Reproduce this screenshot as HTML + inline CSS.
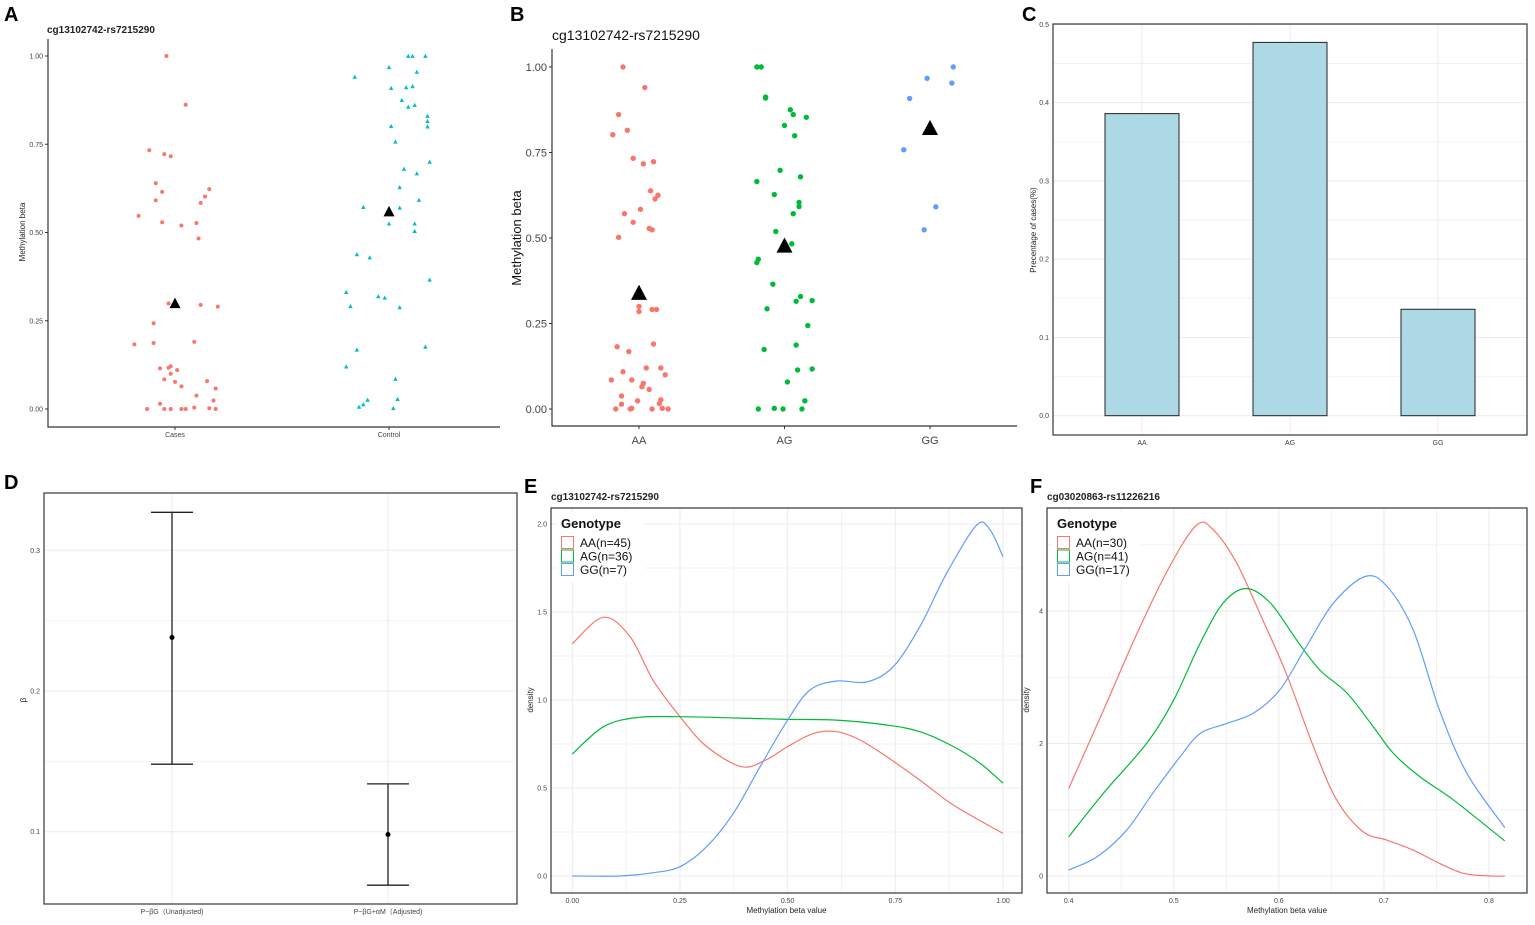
<!DOCTYPE html>
<html><head><meta charset="utf-8"><style>
html,body{margin:0;padding:0;background:#fff;}
svg{display:block;font-family:"Liberation Sans",Arial,sans-serif;}
</style></head><body>
<svg id="fig" width="1535" height="925" viewBox="0 0 1535 925" xmlns="http://www.w3.org/2000/svg"></svg>
<script>
// ---------- DATA ----------
// Panel A: values and jitter (category units)
const aCasesVal=[1.00,.862,.733,.722,.716,.640,.615,.623,.602,.591,.584,.547,.529,.520,.527,.483,.299,.295,.290,.243,.183,.187,.190,.115,.117,.121,.110,.100,.084,.077,.079,.064,.058,.038,.024,.015,0,0,0,0,0,.004,.002,0];
const aCasesJit=[-.04,.05,-.12,-.05,-.02,-.09,-.06,.16,.14,-.09,.12,-.17,-.06,.03,.10,.11,-.03,.12,.20,-.10,-.19,-.10,.09,-.07,-.03,-.02,.01,-.02,-.05,0,.15,.03,.19,.10,.18,-.07,-.13,-.05,-.02,.03,.05,.09,.16,.19];
const aCtrlVal=[1,1,1,.968,.955,.941,.909,.911,.914,.875,.861,.856,.830,.815,.801,.800,.757,.700,.680,.667,.628,.592,.572,.570,.525,.525,.504,.438,.429,.366,.331,.319,.315,.291,.288,.168,.176,.120,.085,.026,.028,.013,.006,.002];
const aCtrlJit=[.09,.11,.17,0,.13,-.16,.01,.08,.11,.06,.12,.09,.18,.18,.01,.18,.03,.19,.07,.13,.05,.14,-.12,.05,0,.12,.12,-.15,-.09,.19,-.20,-.05,-.02,-.18,.05,-.15,.17,-.20,.03,-.10,.04,-.12,-.14,.02];
const aCategories=["Cases","Control"];
const aMeans=[.299,.559];
const aTicks=[0,.25,.5,.75,1];
const aTickLabels=["0.00","0.25","0.50","0.75","1.00"];
// Panel B
const bCategories=["AA","AG","GG"];
const bAAVal=[1,.94,.861,.815,.802,.733,.717,.723,.638,.625,.614,.584,.571,.546,.528,.524,.502,.300,.285,.291,.291,.190,.182,.168,.109,.120,.120,.100,.085,.085,.075,.065,.057,.038,.024,.027,.016,.014,0,0,.002,0,.002,0];
const bAAJit=[-.11,.04,-.14,-.08,-.18,-.04,.03,.10,.08,.13,.11,.01,-.10,-.04,.07,.09,-.14,0,0,.09,.12,.10,-.15,-.07,-.11,.05,.15,.18,-.19,-.05,.03,.02,.07,-.12,-.01,.15,.14,-.12,-.16,-.06,-.05,.09,.16,.20];
const bAGVal=[1,1,.912,.909,.875,.861,.853,.829,.799,.698,.665,.679,.627,.604,.592,.571,.519,.483,.438,.428,.365,.329,.315,.317,.293,.244,.187,.174,.114,.117,.079,.024,0,.002,0,0];
const bAGJit=[-.19,-.16,-.13,-.13,.04,.06,.15,0,.07,-.03,-.19,.11,-.07,.10,.10,.06,-.06,.05,-.18,-.19,-.08,.11,.08,.19,-.12,.16,.08,-.14,.09,.19,.02,.14,-.18,-.07,-.01,.12];
const bGGVal=[1,.967,.953,.908,.758,.591,.524];
const bGGJit=[.16,-.02,.15,-.14,-.18,.04,-.04];
const bMeans=[.339,.477,.821];
// Panel C
const cCategories=["AA","AG","GG"];
const cValues=[.386,.477,.136];
const cTicks=[0,.1,.2,.3,.4,.5];
// Panel D
const dCategories=["P~βG（Unadjusted)","P~βG+αM（Adjusted)"];
const dEstimate=[.238,.098];
const dLower=[.148,.062];
const dUpper=[.327,.134];
const dTicks=[.1,.2,.3];
// Panel E
const eAAx=[0,.072,.134,.188,.25,.312,.393,.45,.5,.56,.614,.668,.73,.807,.885,1];
const eAAy=[1.32,1.47,1.36,1.11,.905,.735,.621,.66,.735,.81,.82,.773,.678,.545,.403,.242];
const eAGx=[0,.072,.149,.25,.38,.5,.614,.73,.807,.885,.947,1];
const eAGy=[.693,.848,.9,.905,.898,.89,.886,.858,.82,.735,.64,.527];
const eGGx=[0,.11,.188,.25,.312,.374,.436,.5,.552,.614,.683,.745,.807,.869,.939,.97,1];
const eGGy=[0,0,.019,.053,.167,.356,.621,.886,1.057,1.108,1.102,1.189,1.417,1.72,1.994,1.966,1.814];
const eLegend=["AA(n=45)","AG(n=36)","GG(n=7)"];
// Panel F
const fAAx=[.4,.433,.465,.496,.522,.538,.56,.582,.607,.633,.655,.68,.703,.728,.753,.776,.801,.815];
const fAAy=[1.32,2.5,3.66,4.67,5.3,5.22,4.72,3.96,3.06,1.95,1.15,.67,.54,.39,.19,.04,0,0];
const fAGx=[.4,.433,.474,.5,.525,.547,.569,.592,.617,.639,.665,.69,.709,.734,.766,.815];
const fAGy=[.59,1.25,2.0,2.66,3.51,4.12,4.34,4.12,3.56,3.11,2.76,2.25,1.85,1.5,1.15,.53];
const fGGx=[.4,.427,.455,.48,.506,.525,.55,.576,.601,.626,.652,.682,.703,.728,.753,.779,.815];
const fGGy=[.09,.29,.69,1.25,1.8,2.15,2.3,2.46,2.81,3.46,4.12,4.52,4.37,3.71,2.5,1.55,.73];
const fLegend=["AA(n=30)","AG(n=41)","GG(n=17)"];

// ---------- HELPERS ----------
const svg=document.getElementById('fig');
const NS='http://www.w3.org/2000/svg';
function mk(tag,attrs,parent){const e=document.createElementNS(NS,tag);for(const k in attrs)e.setAttribute(k,attrs[k]);(parent||svg).appendChild(e);return e;}
function txt(s,attrs,parent){const e=mk('text',attrs,parent);e.textContent=s;return e;}
function lin(d0,d1,r0,r1){return v=>r0+(v-d0)/(d1-d0)*(r1-r0);}
function smooth(pts){let d='M'+pts[0][0]+','+pts[0][1];for(let i=0;i<pts.length-1;i++){const p0=pts[i-1]||pts[i],p1=pts[i],p2=pts[i+1],p3=pts[i+2]||p2;const c1=[p1[0]+(p2[0]-p0[0])/6,p1[1]+(p2[1]-p0[1])/6],c2=[p2[0]-(p3[0]-p1[0])/6,p2[1]-(p3[1]-p1[1])/6];d+=' C'+c1+' '+c2+' '+p2;}return d;}
function tri(cx,cy,s){return (cx-s)+','+(cy+s*0.85)+' '+(cx+s)+','+(cy+s*0.85)+' '+cx+','+(cy-s*1.05);}
const RED='#F8766D',GRN='#00BA38',BLU='#619CFF',CYN='#00BFC4';

// ---------- PANEL A ----------
(function(){
const g=mk('g',{});


const y=lin(0,1,409,56), x=lin(0,1,175,389);
const lab=txt('A',{x:4,y:21,'font-size':20,'font-weight':'bold'},g);


const t=txt('cg13102742-rs7215290',{x:47,y:33,'font-size':10,'font-weight':'bold',fill:'#222'},g);


const ax=mk('path',{d:'M48,39 V427 H500',fill:'none',stroke:'#333','stroke-width':1.2},g);


aTicks.forEach((v,i)=>{const tl=txt(aTickLabels[i],{x:43,y:y(v)+2.5,'font-size':7,'text-anchor':'end',fill:'#444'},g);


mk('line',{x1:45,x2:48,y1:y(v),y2:y(v),stroke:'#333'},g);});
aCategories.forEach((c,i)=>{const tl=txt(c,{x:x(i),y:437,'font-size':7,'text-anchor':'middle',fill:'#444'},g);


mk('line',{x1:x(i),x2:x(i),y1:427,y2:430,stroke:'#333'},g);});
const yt=txt('Methylation beta',{x:0,y:0,'font-size':8,'text-anchor':'middle',transform:'translate(25,232) rotate(-90)',fill:'#222'},g);


aCasesVal.forEach((v,i)=>{const p=mk('circle',{cx:x(0+aCasesJit[i]),cy:y(v),r:2,fill:RED},g);

});
aCtrlVal.forEach((v,i)=>{const p=mk('polygon',{points:tri(x(1+aCtrlJit[i]),y(v),2.2),fill:CYN},g);

});
aMeans.forEach((v,i)=>{const p=mk('polygon',{points:tri(x(i),y(v),5.5),fill:'#000'},g);

});
})();

// ---------- PANEL B ----------
(function(){
const g=mk('g',{});


const y=lin(0,1,409,67), x=lin(0,1,639,784.5);
const lab=txt('B',{x:510,y:21,'font-size':20,'font-weight':'bold'},g);


const t=txt('cg13102742-rs7215290',{x:552,y:40,'font-size':14,fill:'#111'},g);


const ax=mk('path',{d:'M552,49 V426 H1017',fill:'none',stroke:'#333','stroke-width':1.2},g);


aTicks.forEach((v,i)=>{const tl=txt(aTickLabels[i],{x:547,y:y(v)+4,'font-size':11,'text-anchor':'end',fill:'#444'},g);


mk('line',{x1:549,x2:552,y1:y(v),y2:y(v),stroke:'#333'},g);});
bCategories.forEach((c,i)=>{const tl=txt(c,{x:x(i),y:444,'font-size':11,'text-anchor':'middle',fill:'#444'},g);


mk('line',{x1:x(i),x2:x(i),y1:426,y2:429,stroke:'#333'},g);});
const yt=txt('Methylation beta',{x:0,y:0,'font-size':13,'text-anchor':'middle',transform:'translate(521,238) rotate(-90)',fill:'#111'},g);


[[bAAVal,bAAJit,RED],[bAGVal,bAGJit,GRN],[bGGVal,bGGJit,BLU]].forEach(([vals,jit,col],k)=>{
vals.forEach((v,i)=>{const p=mk('circle',{cx:x(k+jit[i]),cy:y(v),r:2.7,fill:col},g);

});});
bMeans.forEach((v,i)=>{const p=mk('polygon',{points:tri(x(i),y(v),8),fill:'#000'},g);

});
})();

// ---------- PANEL C ----------
(function(){
const g=mk('g',{});


const y=lin(0,.5,415.7,24.4), x=lin(0,1,1142,1290);
const lab=txt('C',{x:1022,y:21,'font-size':20,'font-weight':'bold'},g);


for(let v=0.05;v<0.5;v+=0.1)mk('line',{x1:1053,x2:1527,y1:y(v),y2:y(v),stroke:'#f2f2f2'},g);
cTicks.forEach(v=>mk('line',{x1:1053,x2:1527,y1:y(v),y2:y(v),stroke:'#ebebeb'},g));
cCategories.forEach((c,i)=>mk('line',{x1:x(i),x2:x(i),y1:24,y2:435,stroke:'#ebebeb'},g));
cValues.forEach((v,i)=>{const b=mk('rect',{x:x(i)-37,y:y(v),width:74,height:y(0)-y(v),fill:'#ADD8E6',stroke:'#222','stroke-width':1},g);

});
const box=mk('rect',{x:1053,y:24,width:474,height:411,fill:'none',stroke:'#444','stroke-width':1.3},g);


cTicks.forEach(v=>{const tl=txt(v.toFixed(1),{x:1049,y:y(v)+2.5,'font-size':7,'text-anchor':'end',fill:'#444'},g);

});
cCategories.forEach((c,i)=>{const tl=txt(c,{x:x(i),y:445,'font-size':7,'text-anchor':'middle',fill:'#444'},g);

});
const yt=txt('Precentage of cases(%)',{x:0,y:0,'font-size':8,'text-anchor':'middle',transform:'translate(1036,230) rotate(-90)',fill:'#222'},g);


})();

// ---------- PANEL D ----------
(function(){
const g=mk('g',{});


const y=lin(.1,.3,831.7,550.3), x=lin(0,1,172,388);
const lab=txt('D',{x:4,y:489,'font-size':20,'font-weight':'bold'},g);


[.15,.25].forEach(v=>mk('line',{x1:44,x2:517,y1:y(v),y2:y(v),stroke:'#f2f2f2'},g));
dTicks.forEach(v=>mk('line',{x1:44,x2:517,y1:y(v),y2:y(v),stroke:'#ebebeb'},g));
dCategories.forEach((c,i)=>mk('line',{x1:x(i),x2:x(i),y1:493,y2:904,stroke:'#ebebeb'},g));
dEstimate.forEach((v,i)=>{const cx=x(i);
const e=mk('path',{d:`M${cx-21},${y(dUpper[i])} H${cx+21} M${cx},${y(dUpper[i])} V${y(dLower[i])} M${cx-21},${y(dLower[i])} H${cx+21}`,stroke:'#222','stroke-width':1.3,fill:'none'},g);


const p=mk('circle',{cx:cx,cy:y(v),r:2.5,fill:'#000'},g);

});
const box=mk('rect',{x:44,y:493,width:473,height:411,fill:'none',stroke:'#444','stroke-width':1.3},g);


dTicks.forEach(v=>{const tl=txt(v.toFixed(1),{x:40,y:y(v)+2.5,'font-size':7,'text-anchor':'end',fill:'#444'},g);

});
dCategories.forEach((c,i)=>{const tl=txt(c,{x:x(i),y:914,'font-size':7,'text-anchor':'middle',fill:'#444'},g);

});
const yt=txt('β',{x:0,y:0,'font-size':8,'text-anchor':'middle',transform:'translate(26,700) rotate(-90)',fill:'#222'},g);


})();

// ---------- DENSITY PANELS ----------
function density(o){
const g=mk('g',{});


const x=lin(o.xd[0],o.xd[1],o.xr[0],o.xr[1]), y=lin(o.yd[0],o.yd[1],o.yr[0],o.yr[1]);
const lab=txt(o.letter,{x:o.lx,y:493,'font-size':20,'font-weight':'bold'},g);


const t=txt(o.title,{x:o.box[0],y:500,'font-size':10,'font-weight':'bold',fill:'#222'},g);


const [bx,by,bw,bh]=o.box;
o.yminor.forEach(v=>mk('line',{x1:bx,x2:bx+bw,y1:y(v),y2:y(v),stroke:'#f2f2f2'},g));
o.xminor.forEach(v=>mk('line',{x1:x(v),x2:x(v),y1:by,y2:by+bh,stroke:'#f2f2f2'},g));
o.yticks.forEach(v=>mk('line',{x1:bx,x2:bx+bw,y1:y(v),y2:y(v),stroke:'#ebebeb'},g));
o.xticks.forEach(v=>mk('line',{x1:x(v),x2:x(v),y1:by,y2:by+bh,stroke:'#ebebeb'},g));
o.series.forEach(([xs,ys,col,nm])=>{const pts=xs.map((v,i)=>[x(v).toFixed(1),y(ys[i]).toFixed(1)].map(Number));
const p=mk('path',{d:smooth(pts),fill:'none',stroke:col,'stroke-width':1.2},g);

});
const box=mk('rect',{x:bx,y:by,width:bw,height:bh,fill:'none',stroke:'#444','stroke-width':1.3},g);


o.yticks.forEach((v,i)=>{const tl=txt(o.ylabels[i],{x:bx-4,y:y(v)+2.5,'font-size':7,'text-anchor':'end',fill:'#444'},g);

});
o.xticks.forEach((v,i)=>{const tl=txt(o.xlabels[i],{x:x(v),y:by+bh+10,'font-size':7,'text-anchor':'middle',fill:'#444'},g);

});
const xt=txt('Methylation beta value',{x:bx+bw/2,y:by+bh+20,'font-size':8,'text-anchor':'middle',fill:'#222'},g);


const yt=txt('density',{x:0,y:0,'font-size':8,'text-anchor':'middle',transform:`translate(${bx-18},700) rotate(-90)`,fill:'#222'},g);


const lg=mk('g',{},g);


mk('rect',{x:bx+6,y:by+4,width:88,height:70,fill:'#fff'},lg);
txt('Genotype',{x:bx+10,y:by+20,'font-size':13,'font-weight':'bold',fill:'#111'},lg);
o.legend.forEach((s,i)=>{const e=mk('g',{},lg);


mk('rect',{x:bx+10.5,y:by+28.5+i*13.5,width:12,height:12,fill:'#fff',stroke:o.series[i][2],'stroke-width':1},e);
txt(s,{x:bx+29,y:by+39+i*13.5,'font-size':12,fill:'#111'},e);});
}
density({name:'panel-e',letter:'E',lx:524,title:'cg13102742-rs7215290',box:[551,508,471,385],
xd:[0,1],xr:[572.3,1003],yd:[0,2],yr:[876,524],
xticks:[0,.25,.5,.75,1],xlabels:['0.00','0.25','0.50','0.75','1.00'],xminor:[.125,.375,.625,.875],
yticks:[0,.5,1,1.5,2],ylabels:['0.0','0.5','1.0','1.5','2.0'],yminor:[.25,.75,1.25,1.75],
legend:eLegend,series:[[eAAx,eAAy,RED,'aa-density'],[eAGx,eAGy,GRN,'ag-density'],[eGGx,eGGy,BLU,'gg-density']]});
density({name:'panel-f',letter:'F',lx:1030,title:'cg03020863-rs11226216',box:[1047,508,480,385],
xd:[.4,.8],xr:[1068.7,1489],yd:[0,4],yr:[876,611],
xticks:[.4,.5,.6,.7,.8],xlabels:['0.4','0.5','0.6','0.7','0.8'],xminor:[.45,.55,.65,.75],
yticks:[0,2,4],ylabels:['0','2','4'],yminor:[1,3,5],
legend:fLegend,series:[[fAAx,fAAy,RED,'aa-density'],[fAGx,fAGy,GRN,'ag-density'],[fGGx,fGGy,BLU,'gg-density']]});
</script>
</body></html>
